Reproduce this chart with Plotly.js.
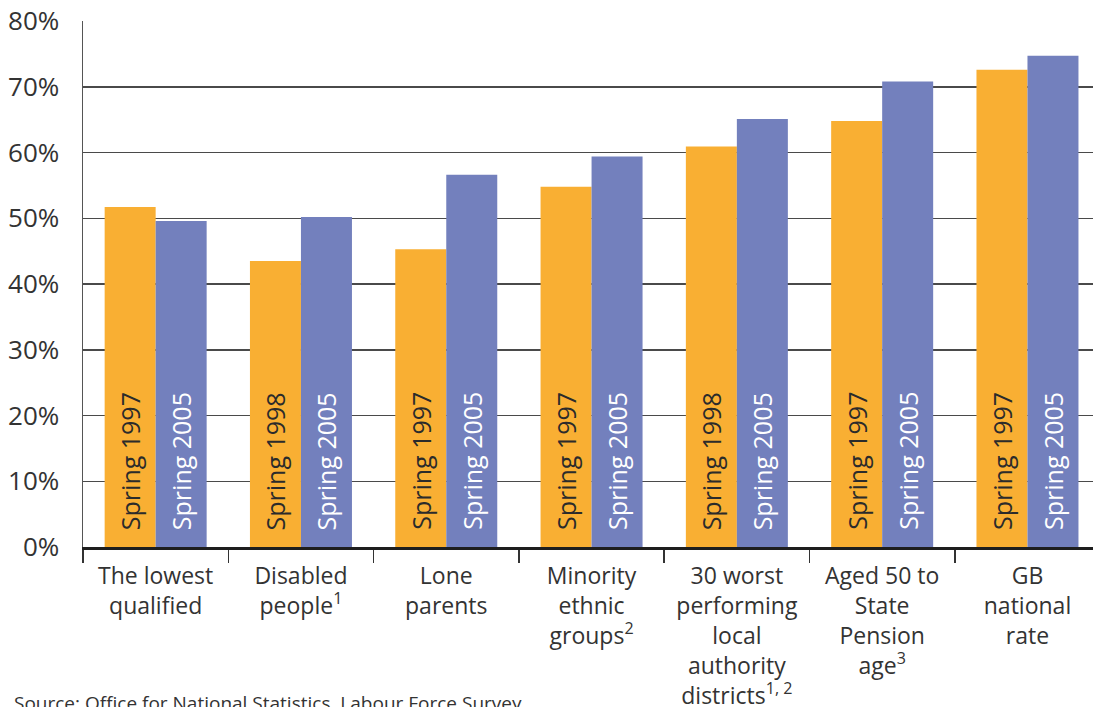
<!DOCTYPE html>
<html>
<head>
<meta charset="utf-8">
<script src="https://cdn.plot.ly/plotly-3.0.1.min.js"></script>
<style>
  html, body { margin: 0; padding: 0; background: #ffffff; overflow: hidden; }
  #chart { width: 1093px; height: 707px; }
</style>
</head>
<body>
<div id="chart"></div>
<script>
// Employment rates by disadvantaged group, earlier year vs spring 2005
const categories = [
  "The lowest<br>qualified",
  "Disabled<br>people<sup>1</sup>",
  "Lone<br>parents",
  "Minority<br>ethnic<br>groups<sup>2</sup>",
  "30 worst<br>performing<br>local<br>authority<br>districts<sup>1, 2</sup>",
  "Aged 50 to<br>State<br>Pension<br>age<sup>3</sup>",
  "GB<br>national<br>rate"
];
const earlierValues = [51.7, 43.5, 45.3, 54.8, 60.9, 64.8, 72.6];
const laterValues   = [49.6, 50.2, 56.6, 59.4, 65.1, 70.8, 74.7];
const earlierLabels = ["Spring 1997", "Spring 1998", "Spring 1997", "Spring 1997", "Spring 1998", "Spring 1997", "Spring 1997"];
const laterLabels   = ["Spring 2005", "Spring 2005", "Spring 2005", "Spring 2005", "Spring 2005", "Spring 2005", "Spring 2005"];
const yTicks = [0, 10, 20, 30, 40, 50, 60, 70, 80];

const ORANGE = "#F9AF33";
const BLUE = "#7380BD";
const FONT = "Open Sans, Noto Sans, sans-serif";

const traces = [
  {
    type: "bar", x: categories, y: earlierValues,
    marker: { color: ORANGE, line: { width: 0 } },
    hoverinfo: "skip"
  },
  {
    type: "bar", x: categories, y: laterValues,
    marker: { color: BLUE, line: { width: 0 } },
    hoverinfo: "skip"
  }
];

// Vertical period labels sitting at the foot of each bar
const annotations = [];
function addBarLabels(labels, shift, color) {
  labels.forEach((txt, i) => {
    annotations.push({
      xref: "x", yref: "y", x: categories[i], y: 0,
      xshift: shift, yshift: 15,
      xanchor: "center", yanchor: "bottom",
      text: txt, textangle: -90, showarrow: false,
      font: { family: FONT, size: 25, color: color }
    });
  });
}
addBarLabels(earlierLabels, -25.5, "#2b2b2b");
addBarLabels(laterLabels, 25.5, "#ffffff");

annotations.push({
  xref: "paper", yref: "paper", x: -0.0703, y: -0.268,
  xanchor: "left", yanchor: "top", showarrow: false,
  text: "Source: Office for National Statistics. Labour Force Survey.",
  font: { family: FONT, size: 19, color: "#333333" }
});

const layout = {
  width: 1093, height: 707,
  margin: { l: 83, r: 0, t: 21, b: 160, pad: 0 },
  paper_bgcolor: "#ffffff", plot_bgcolor: "#ffffff",
  showlegend: false,
  barmode: "group", bargap: 0.298, bargroupgap: 0,
  font: { family: FONT, color: "#333333" },
  xaxis: {
    type: "category",
    range: [-0.5, 6.451],
    showgrid: false, zeroline: false,
    showline: true, linecolor: "#1e1e1e", linewidth: 2.5,
    ticks: "outside", tickson: "boundaries", ticklen: 13,
    tickcolor: "#333333", tickwidth: 1.5,
    ticklabelstandoff: 7,
    tickfont: { family: FONT, size: 23, color: "#333333" },
    fixedrange: true
  },
  yaxis: {
    range: [0, 80],
    tickmode: "array", tickvals: yTicks,
    ticktext: yTicks.map(v => v + "%"),
    showgrid: true, gridcolor: "#4a4a4a", gridwidth: 1.5,
    zeroline: false,
    showline: true, linecolor: "#555555", linewidth: 1.5,
    ticks: "", ticklabelstandoff: 17,
    tickfont: { family: FONT, size: 26, color: "#333333" },
    fixedrange: true
  },
  annotations: annotations
};

Plotly.newPlot("chart", traces, layout, { displayModeBar: false, staticPlot: true });
</script>
</body>
</html>
